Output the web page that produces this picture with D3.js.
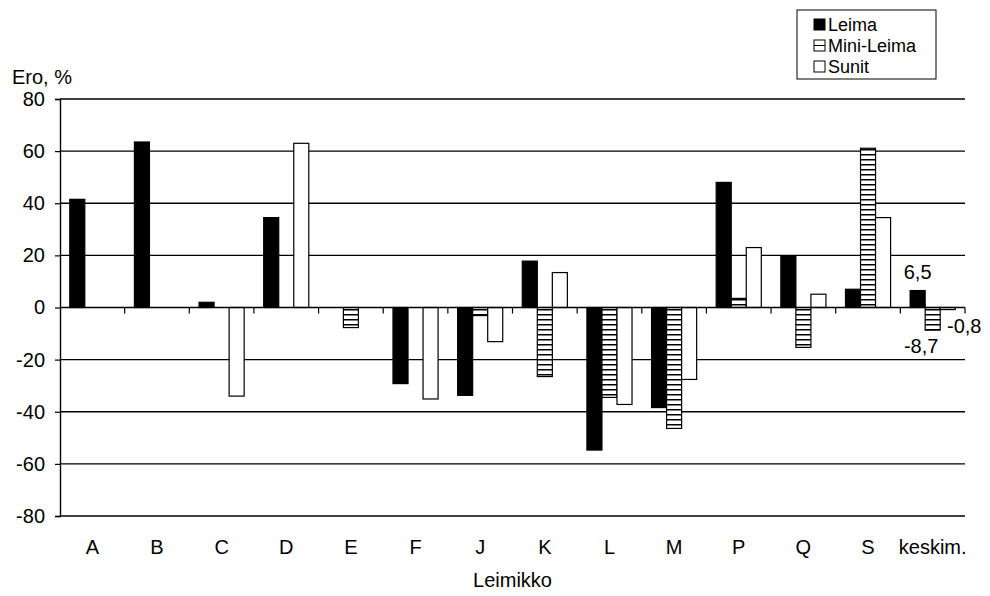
<!DOCTYPE html>
<html>
<head>
<meta charset="utf-8">
<script src="https://cdn.jsdelivr.net/npm/d3@7"></script>
<style>
  body { margin: 0; background: #fff; }
  text { font-family: "Liberation Sans", Arial, sans-serif; fill: #000; }
</style>
</head>
<body>
<div id="chart"></div>
<script>
// Data
const categories = ['A', 'B', 'C', 'D', 'E', 'F', 'J', 'K', 'L', 'M', 'P', 'Q', 'S', 'keskim.'];
const seriesNames = ['Leima', 'Mini-Leima', 'Sunit'];
const leima = [41.5, 63.5, 2.0, 34.5, 0, -29.2, -33.7, 17.8, -54.7, -38.4, 48.0, 19.9, 7.0, 6.5];
const miniLeima = [0, 0, 0, 0, -7.7, 0, -3.1, -26.5, -34.5, -46.4, 3.5, -15.3, 61.1, -8.7];
const sunit = [0, 0, -34, 63, 0, -35.1, -13.1, 13.4, -37.2, -27.6, 23.0, 5.1, 34.5, -0.8];
const yTicks = [-80, -60, -40, -20, 0, 20, 40, 60, 80];
const avgLabels = ['6,5', '-8,7', '-0,8'];

const width = 990, height = 596;
const margins = { top: 99, right: 25, bottom: 80, left: 60 };
const innerW = width - margins.left - margins.right;
const innerH = height - margins.top - margins.bottom;

const svg = d3.select('#chart').append('svg')
  .attr('width', width)
  .attr('height', height);

// hatch pattern for Mini-Leima
const defs = svg.append('defs');
const pat = defs.append('pattern')
  .attr('id', 'hatch')
  .attr('patternUnits', 'userSpaceOnUse')
  .attr('width', 8).attr('height', 5);
pat.append('rect').attr('width', 8).attr('height', 5).attr('fill', '#fff');
pat.append('line').attr('x1', 0).attr('x2', 8).attr('y1', 0.75).attr('y2', 0.75)
  .attr('stroke', '#000').attr('stroke-width', 1.5);

const g = svg.append('g').attr('transform', `translate(${margins.left},${margins.top})`);

const x = d3.scaleBand().domain(categories).range([0, innerW]);
const y = d3.scaleLinear().domain([-80, 80]).range([innerH, 0]);
const x1 = d3.scaleBand().domain(seriesNames).range([0, x.bandwidth()]).paddingOuter(0.65);

// gridlines
g.selectAll('.grid').data(yTicks.filter(d => d !== 0)).enter().append('line')
  .attr('x1', 0).attr('x2', innerW)
  .attr('y1', d => y(d)).attr('y2', d => y(d))
  .attr('stroke', '#000').attr('stroke-width', 1.4);

// y axis
const yAxis = g.append('g')
  .call(d3.axisLeft(y).tickValues(yTicks).tickSize(5).tickPadding(10).tickFormat(d => String(d)));
yAxis.select('.domain').attr('stroke-width', 1.4);
yAxis.selectAll('.tick line').attr('stroke-width', 1.2);
yAxis.selectAll('text').style('font-size', '20px').style('font-family', '"Liberation Sans", Arial, sans-serif');

// bars
const rows = categories.map((c, i) => ({ cat: c, vals: [leima[i], miniLeima[i], sunit[i]] }));
const fills = ['#000', 'url(#hatch)', '#fff'];
const groups = g.selectAll('.grp').data(rows).enter().append('g')
  .attr('transform', d => `translate(${x(d.cat)},0)`);
groups.selectAll('rect')
  .data(d => d.vals.map((v, k) => ({ v, k })).filter(e => e.v !== 0))
  .enter().append('rect')
  .attr('x', e => x1(seriesNames[e.k]))
  .attr('width', x1.bandwidth())
  .attr('y', e => y(Math.max(0, e.v)))
  .attr('height', e => Math.abs(y(e.v) - y(0)))
  .attr('fill', e => fills[e.k])
  .attr('stroke', '#000').attr('stroke-width', 1.2);

// zero axis with ticks at band boundaries
g.append('line').attr('x1', 0).attr('x2', innerW).attr('y1', y(0)).attr('y2', y(0))
  .attr('stroke', '#000').attr('stroke-width', 1.4);
g.selectAll('.xt').data(categories.map((c, i) => i + 1)).enter().append('line')
  .attr('x1', d => d * x.step()).attr('x2', d => d * x.step())
  .attr('y1', y(0)).attr('y2', y(0) + 6)
  .attr('stroke', '#000').attr('stroke-width', 1.2);

// category labels
g.selectAll('.xl').data(categories).enter().append('text')
  .attr('x', d => x(d) + x.bandwidth() / 2)
  .attr('y', innerH + 38)
  .attr('text-anchor', 'middle')
  .style('font-size', '20px')
  .text(d => d);

// average labels
const last = categories[categories.length - 1];
const avgPos = [
  { t: avgLabels[0], x: x(last) + x1('Leima') + x1.bandwidth() / 2, y: y(leima[13]) - 12 },
  { t: avgLabels[1], x: x(last) + x1('Mini-Leima') - 4, y: y(miniLeima[13]) + 23 },
  { t: avgLabels[2], x: x(last) + x.bandwidth() - 18, y: y(0) + 25 }
];
g.selectAll('.al').data(avgPos).enter().append('text')
  .attr('x', d => d.x).attr('y', d => d.y)
  .attr('text-anchor', (d, i) => i === 2 ? 'start' : 'middle')
  .style('font-size', '20px')
  .text(d => d.t);

// axis titles
svg.append('text').attr('x', 12).attr('y', 84).style('font-size', '20px').text('Ero, %');
svg.append('text').attr('x', margins.left + innerW / 2).attr('y', 587)
  .attr('text-anchor', 'middle').style('font-size', '20px').text('Leimikko');

// legend
const legend = svg.append('g').attr('transform', 'translate(797,10)');
legend.append('rect').attr('width', 139).attr('height', 69)
  .attr('fill', '#fff').attr('stroke', '#000').attr('stroke-width', 1);
seriesNames.forEach((s, i) => {
  const yy = 8 + i * 21;
  legend.append('rect').attr('x', 17).attr('y', yy + 1).attr('width', 11).attr('height', 11)
    .attr('fill', i === 0 ? '#000' : '#fff').attr('stroke', '#000').attr('stroke-width', 1);
  if (i === 1) {
    legend.append('line').attr('x1', 17).attr('x2', 28).attr('y1', yy + 6.5).attr('y2', yy + 6.5)
      .attr('stroke', '#000').attr('stroke-width', 1);
  }
  legend.append('text').attr('x', 31).attr('y', yy + 13).style('font-size', '18px').text(s);
});
</script>
</body>
</html>
